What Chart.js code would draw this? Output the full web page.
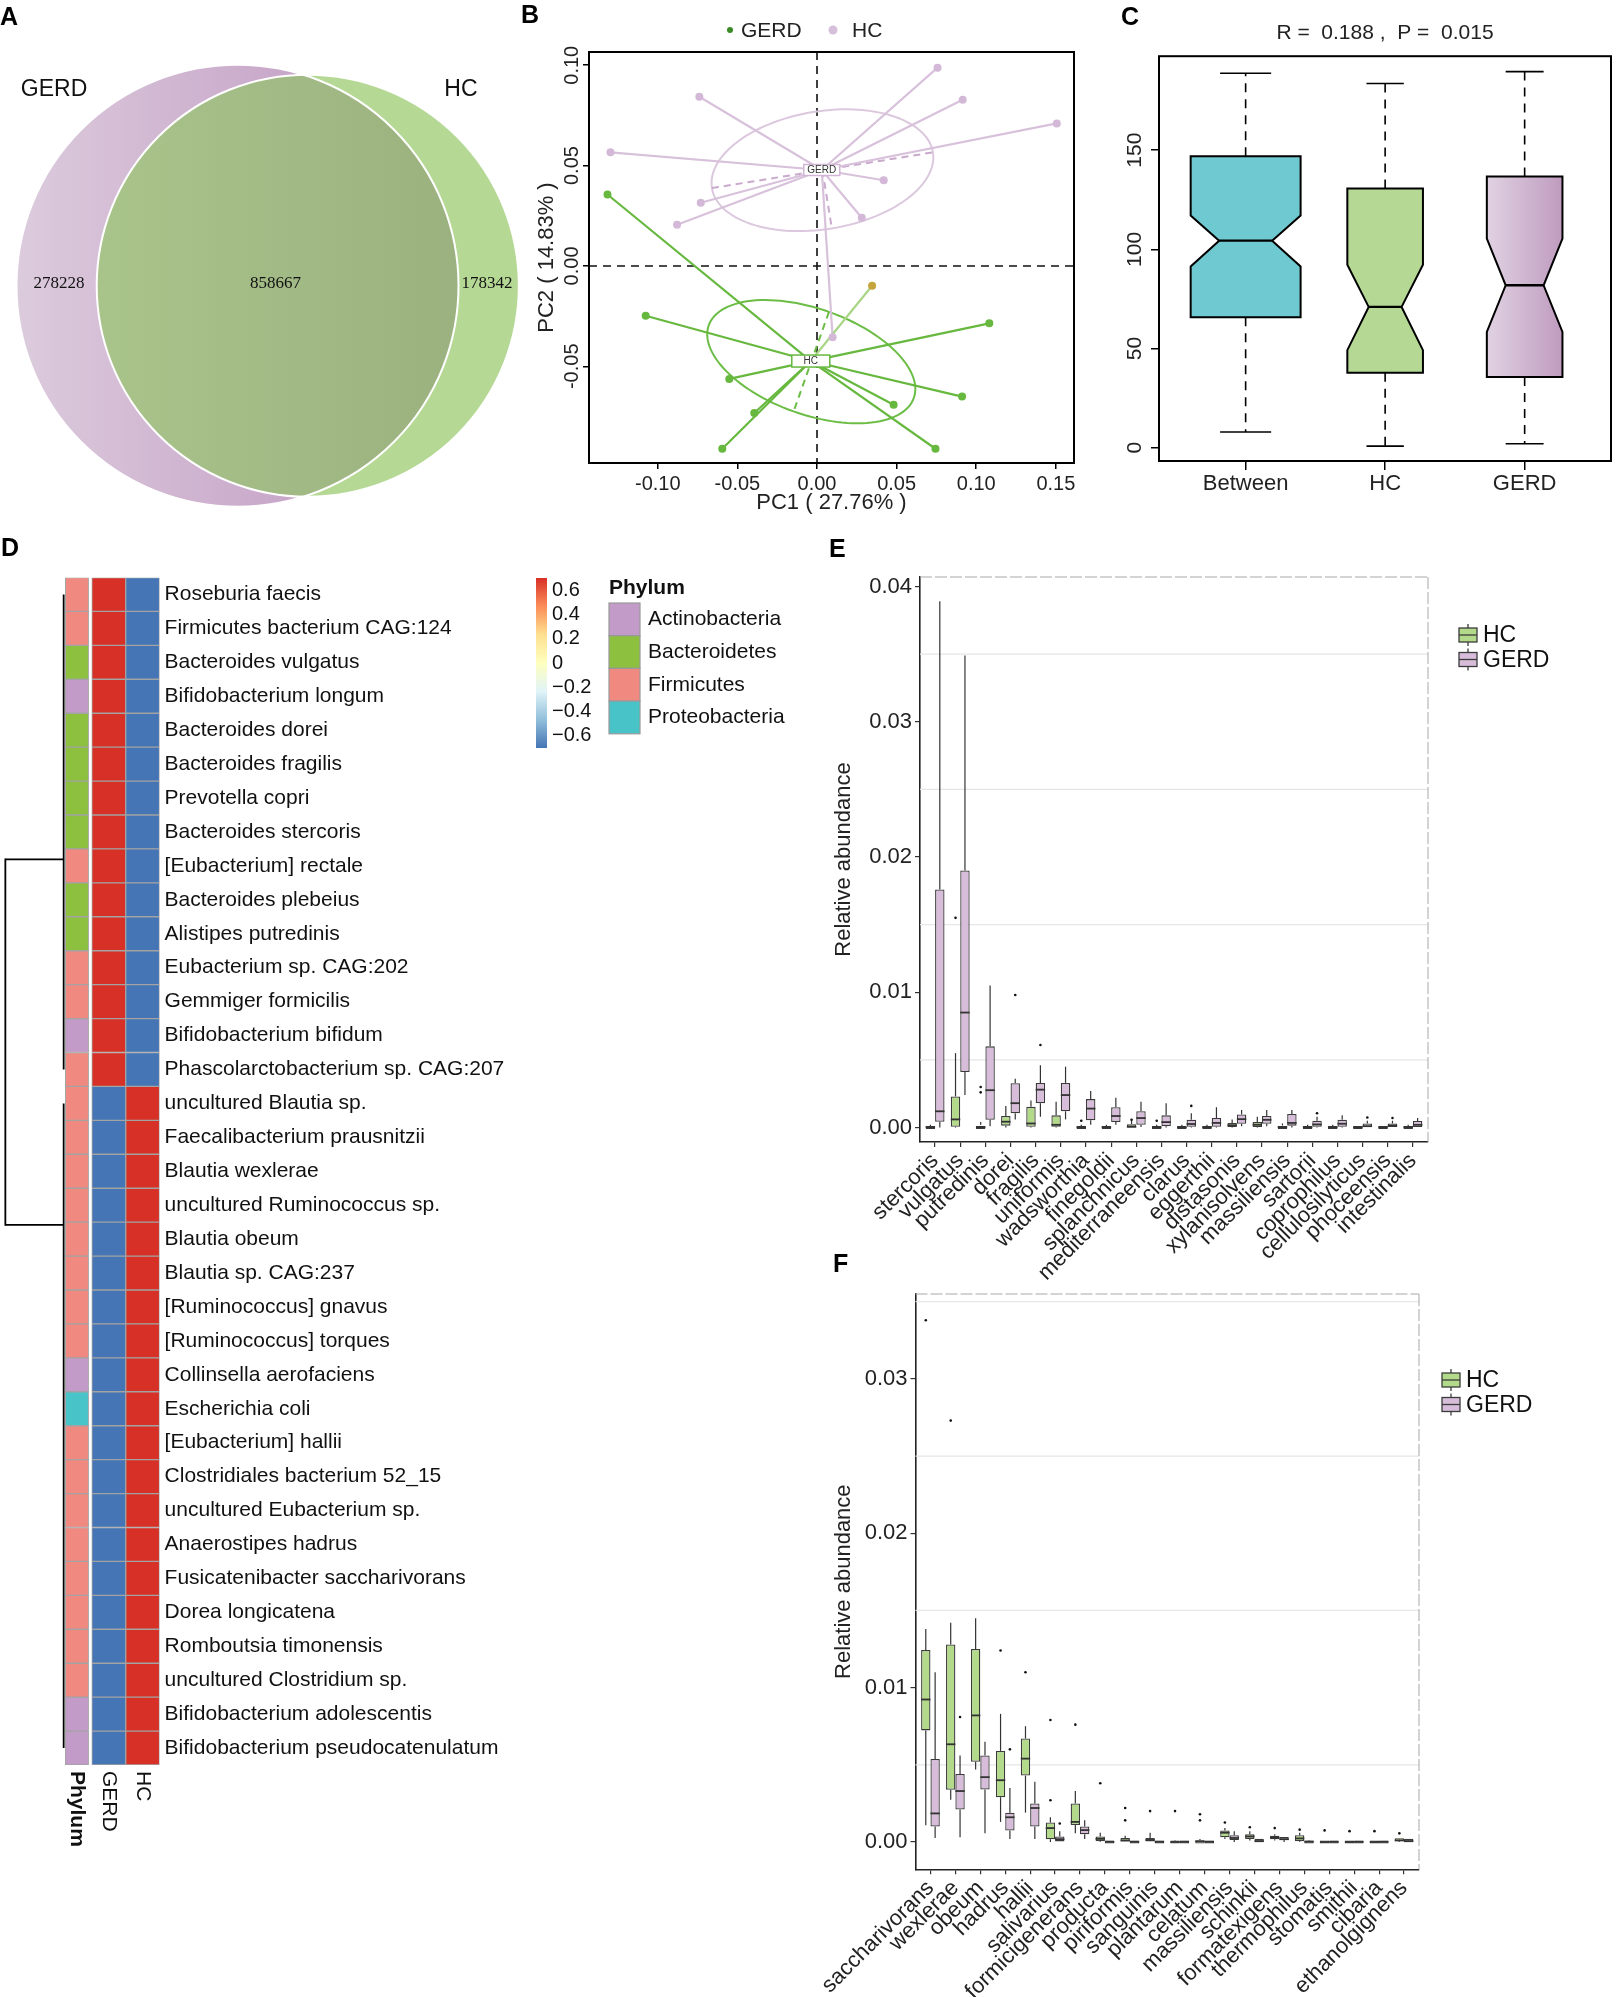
<!DOCTYPE html>
<html>
<head>
<meta charset="utf-8">
<title>GERD vs HC gut metagenome</title>
<script src="https://cdn.jsdelivr.net/npm/chart.js@4.4.0/dist/chart.umd.min.js"></script>
<style>
  html, body { margin: 0; padding: 0; background: #fff; }
  #page { position: relative; width: 1617px; height: 1997px; overflow: hidden; background: #fff; }
  #page canvas { position: absolute; }
  .tag { position: absolute; font: bold 25px 'Liberation Sans', Arial, sans-serif; line-height: 25px; color: #000; }
</style>
</head>
<body>
<div id="page">
  <canvas id="venn" width="530" height="520" style="left:0px;top:0px"></canvas>
  <canvas id="pcoa" width="600" height="520" style="left:500px;top:0px"></canvas>
  <canvas id="anosim" width="527" height="520" style="left:1090px;top:0px"></canvas>
  <canvas id="heat" width="830" height="1320" style="left:0px;top:540px"></canvas>
  <canvas id="boxE" width="817" height="720" style="left:800px;top:560px"></canvas>
  <canvas id="boxF" width="817" height="747" style="left:800px;top:1250px"></canvas>
  <div class="tag" style="left:0px;top:4px">A</div>
  <div class="tag" style="left:521px;top:2px">B</div>
  <div class="tag" style="left:1121px;top:4px">C</div>
  <div class="tag" style="left:1px;top:535px">D</div>
  <div class="tag" style="left:829px;top:536px">E</div>
  <div class="tag" style="left:833px;top:1251px">F</div>
</div>
<script>
// ---------- A: Venn ----------
var vennSets = ['GERD', 'HC'];
var vennUnique = [278228, 178342];
var vennShared = 858667;

// ---------- B: PCoA ----------
var gerdPC1 = [0.0757, 0.0915, 0.1506, -0.0739, -0.1297, -0.0730, -0.0879, 0.0419, 0.0281, 0.0098];
var gerdPC2 = [0.0988, 0.0828, 0.0710, 0.0843, 0.0566, 0.0315, 0.0205, 0.0427, 0.0240, -0.0356];
var hcPC1 = [-0.1316, -0.1076, 0.1082, 0.0911, 0.0481, 0.0744, -0.0595, -0.0394, -0.0551, 0.0346];
var hcPC2 = [0.0356, -0.0248, -0.0286, -0.0651, -0.0692, -0.0911, -0.0911, -0.0733, -0.0563, -0.0099];
var centroidGerd = [0.0030, 0.0478];
var centroidHc = [-0.0039, -0.0474];
// confidence ellipses: centre, two conjugate half axes
var ellipseGerd = [[0.0034, 0.0477], [0.0694, 0.0089], [0.0059, -0.0290]];
var ellipseHc = [[-0.0036, -0.0477], [0.0644, -0.0181], [-0.0111, -0.0248]];
var pc1Ticks = [-0.10, -0.05, 0, 0.05, 0.10, 0.15];
var pc2Ticks = [-0.05, 0, 0.05, 0.10];

// ---------- C: ANOSIM ----------
var anosimGroups = ['Between', 'HC', 'GERD'];
var anosimMin = [7.9, 0.8, 2.0];
var anosimQ1 = [65.8, 37.8, 35.7];
var anosimMed = [104.4, 71.0, 81.9];
var anosimQ3 = [147.0, 130.7, 136.7];
var anosimMax = [188.8, 183.6, 189.6];
var anosimNotchLo = [91.4, 49.2, 58.4];
var anosimNotchHi = [117.1, 92.3, 105.4];
var anosimTicks = [0, 50, 100, 150];

// ---------- D: heatmap ----------
var species = ['Roseburia faecis', 'Firmicutes bacterium CAG:124', 'Bacteroides vulgatus', 'Bifidobacterium longum',
  'Bacteroides dorei', 'Bacteroides fragilis', 'Prevotella copri', 'Bacteroides stercoris', '[Eubacterium] rectale',
  'Bacteroides plebeius', 'Alistipes putredinis', 'Eubacterium sp. CAG:202', 'Gemmiger formicilis',
  'Bifidobacterium bifidum', 'Phascolarctobacterium sp. CAG:207', 'uncultured Blautia sp.',
  'Faecalibacterium prausnitzii', 'Blautia wexlerae', 'uncultured Ruminococcus sp.', 'Blautia obeum',
  'Blautia sp. CAG:237', '[Ruminococcus] gnavus', '[Ruminococcus] torques', 'Collinsella aerofaciens',
  'Escherichia coli', '[Eubacterium] hallii', 'Clostridiales bacterium 52_15', 'uncultured Eubacterium sp.',
  'Anaerostipes hadrus', 'Fusicatenibacter saccharivorans', 'Dorea longicatena', 'Romboutsia timonensis',
  'uncultured Clostridium sp.', 'Bifidobacterium adolescentis', 'Bifidobacterium pseudocatenulatum'];
var phylum = ['Firmicutes', 'Firmicutes', 'Bacteroidetes', 'Actinobacteria', 'Bacteroidetes', 'Bacteroidetes',
  'Bacteroidetes', 'Bacteroidetes', 'Firmicutes', 'Bacteroidetes', 'Bacteroidetes', 'Firmicutes', 'Firmicutes',
  'Actinobacteria', 'Firmicutes', 'Firmicutes', 'Firmicutes', 'Firmicutes', 'Firmicutes', 'Firmicutes',
  'Firmicutes', 'Firmicutes', 'Firmicutes', 'Actinobacteria', 'Proteobacteria', 'Firmicutes', 'Firmicutes',
  'Firmicutes', 'Firmicutes', 'Firmicutes', 'Firmicutes', 'Firmicutes', 'Firmicutes', 'Actinobacteria',
  'Actinobacteria'];
var zGerd = [0.71, 0.71, 0.71, 0.71, 0.71, 0.71, 0.71, 0.71, 0.71, 0.71, 0.71, 0.71, 0.71, 0.71, 0.71,
  -0.71, -0.71, -0.71, -0.71, -0.71, -0.71, -0.71, -0.71, -0.71, -0.71, -0.71, -0.71, -0.71, -0.71, -0.71,
  -0.71, -0.71, -0.71, -0.71, -0.71];
var zHc = [-0.71, -0.71, -0.71, -0.71, -0.71, -0.71, -0.71, -0.71, -0.71, -0.71, -0.71, -0.71, -0.71, -0.71, -0.71,
  0.71, 0.71, 0.71, 0.71, 0.71, 0.71, 0.71, 0.71, 0.71, 0.71, 0.71, 0.71, 0.71, 0.71, 0.71,
  0.71, 0.71, 0.71, 0.71, 0.71];
var dendroClusters = [[0, 14], [15, 34]];
var dendroJoinRow = [7.81, 18.58];
var scaleTicks = [0.6, 0.4, 0.2, 0, -0.2, -0.4, -0.6];

// ---------- E: species higher in GERD ----------
var eCats = ['stercoris', 'vulgatus', 'putredinis', 'dorei', 'fragilis', 'uniformis', 'wadsworthia', 'finegoldii',
  'splanchnicus', 'mediterraneensis', 'clarus', 'eggerthii', 'distasonis', 'xylanisolvens', 'massiliensis',
  'sartorii', 'coprophilus', 'cellulosilyticus', 'phoceensis', 'intestinalis'];
var eHcMin = [0, 0, 0, 0, 0, 0, 0, 0, 0, 0, 0, 0, 0, 0, 0, 0, 0, 0, 0, 0];
var eHcQ1 = [0, 0.00006, 0, 0.00014, 0.00006, 0.00006, 0, 0, 0, 0, 0, 0, 0.00003, 0.00003, 0, 0, 0, 0, 0, 0];
var eHcMed = [0.00003, 0.0006, 0.00003, 0.00043, 0.0003, 0.0002, 0.00002, 0.00002, 0.00005, 0.00002,
  0.00002, 0.00002, 0.00017, 0.0002, 0.00003, 0.00002, 0.00002, 0.00001, 0.00001, 0.00002];
var eHcQ3 = [0.0001, 0.0023, 0.0002, 0.00085, 0.00153, 0.0009, 0.0001, 0.0001, 0.00025, 0.0001,
  0.0001, 0.0001, 0.00034, 0.0004, 0.00015, 0.0001, 0.0001, 0.00005, 0.00005, 0.0001];
var eHcMax = [0.0002, 0.0055, 0.0004, 0.0016, 0.002, 0.0019, 0.0002, 0.0002, 0.0005, 0.0002,
  0.0002, 0.0002, 0.0006, 0.0008, 0.0003, 0.0002, 0.0002, 0.0001, 0.0001, 0.0002];
var eHcOut = [[], [0.0155], [0.003, 0.0026], [], [], [], [0.0005], [], [0.00057], [0.0005],
  [], [], [], [], [], [], [], [], [], []];
var eGerdMin = [0, 0.0024, 0.0001, 0.0006, 0.0008, 0.0006, 0.0002, 0.0002, 0.00003, 0,
  0, 0, 0.0001, 0.0001, 0, 0, 0, 0, 0, 0];
var eGerdQ1 = [0.00043, 0.0041, 0.00057, 0.00105, 0.0018, 0.0012, 0.00054, 0.0004, 0.0002, 0.0001,
  0.00006, 0.00006, 0.00028, 0.00028, 0.00014, 0.00006, 0.00006, 0, 0, 0];
var eGerdMed = [0.0012, 0.0085, 0.00276, 0.0018, 0.0028, 0.0024, 0.0014, 0.00085, 0.0007, 0.0004,
  0.00026, 0.00034, 0.00062, 0.00057, 0.00034, 0.00023, 0.00028, 0.0001, 0.00014, 0.0002];
var eGerdQ3 = [0.0176, 0.0190, 0.0060, 0.00327, 0.0033, 0.0033, 0.0021, 0.0015, 0.0012, 0.0009,
  0.00057, 0.0007, 0.00097, 0.00085, 0.001, 0.0005, 0.00057, 0.0003, 0.0003, 0.00048];
var eGerdMax = [0.0389, 0.0349, 0.0105, 0.0036, 0.0046, 0.0045, 0.0027, 0.0022, 0.0019, 0.0018,
  0.00105, 0.0015, 0.0013, 0.0013, 0.0013, 0.0008, 0.0009, 0.0005, 0.0005, 0.0007];
var eGerdOut = [[], [], [], [0.0098], [0.0061], [], [], [], [], [],
  [0.0016], [], [], [], [], [0.00106], [], [0.00074], [0.0007], []];
var eTicks = [0, 0.01, 0.02, 0.03, 0.04];

// ---------- F: species higher in HC ----------
var fCats = ['saccharivorans', 'wexlerae', 'obeum', 'hadrus', 'hallii', 'salivarius', 'formicigenerans', 'producta',
  'piriformis', 'sanguinis', 'plantarum', 'celatum', 'massiliensis', 'schinkii', 'formatexigens', 'thermophilus',
  'stomatis', 'smithii', 'cibaria', 'ethanolgignens'];
var fHcMin = [0.00108, 0.00274, 0.0047, 0.0013, 0.0019, 0, 0.00056, 0, 0, 0, 0, 0, 0.0002, 0.0001, 0.0001, 0, 0, 0, 0, 0];
var fHcQ1 = [0.00723, 0.00338, 0.0052, 0.0029, 0.0043, 0.00018, 0.0011, 0.00005, 0, 0,
  0, 0, 0.0003, 0.0002, 0.00018, 0.00005, 0, 0, 0, 0.00005];
var fHcMed = [0.00923, 0.00633, 0.0082, 0.004, 0.0054, 0.0009, 0.0013, 0.0002, 0.0001, 0.00013,
  0, 0.00005, 0.0006, 0.00036, 0.00028, 0.00023, 0, 0, 0, 0.0001];
var fHcQ3 = [0.01244, 0.0128, 0.0125, 0.0059, 0.0067, 0.00126, 0.0025, 0.00036, 0.00026, 0.00026,
  0.00005, 0.00013, 0.00074, 0.0005, 0.0004, 0.00044, 0.00003, 0.00003, 0.00003, 0.00015];
var fHcMax = [0.0138, 0.0142, 0.0145, 0.0083, 0.0075, 0.0016, 0.0033, 0.0006, 0.0004, 0.0006,
  0.0001, 0.0002, 0.0009, 0.0007, 0.0005, 0.0006, 0.00005, 0.00005, 0.00005, 0.0002];
var fHcOut = [[0.0338], [0.0273], [], [0.0124], [0.011], [0.0079, 0.0027], [0.0076], [0.0038], [0.0022, 0.0014], [0.002],
  [0.002], [0.0018, 0.0014], [0.00126], [0.00095], [0.0009], [0.0008], [0.00075], [0.0007], [0.0007], [0.00056]];
var fGerdMin = [0.00026, 0.0003, 0.00056, 0.0002, 0.0002, 0, 0.0002, 0, 0, 0, 0, 0, 0, 0, 0, 0, 0, 0, 0, 0];
var fGerdQ1 = [0.001, 0.0021, 0.0034, 0.00074, 0.001, 0, 0.0005, 0, 0, 0,
  0, 0, 0.00013, 0.00002, 0.00013, 0, 0, 0, 0, 0.00002];
var fGerdMed = [0.00185, 0.0033, 0.0042, 0.0016, 0.0022, 0.00018, 0.00077, 0.00001, 0.00001, 0.00001,
  0.00001, 0.00001, 0.00026, 0.00005, 0.00018, 0.00002, 0.00001, 0.00001, 0.00001, 0.00005];
var fGerdQ3 = [0.00538, 0.0044, 0.0056, 0.0019, 0.0025, 0.00036, 0.001, 0.00003, 0.00003, 0.00002,
  0.00002, 0.00002, 0.00044, 0.0001, 0.00026, 0.00005, 0.00002, 0.00002, 0.00002, 0.0001];
var fGerdMax = [0.011, 0.0056, 0.0065, 0.0035, 0.0039, 0.0007, 0.0014, 0.00005, 0.00005, 0.00003,
  0.00003, 0.00003, 0.0007, 0.0002, 0.0003, 0.0001, 0.00003, 0.00003, 0.00003, 0.00015];
var fGerdOut = [[], [0.0081], [], [0.006], [], [0.0012], [], [], [], [],
  [], [], [], [], [], [], [], [], [], []];
var fTicks = [0, 0.01, 0.02, 0.03];

// ---------- common ----------
var sans = "'Liberation Sans', Arial, sans-serif";
var serif = "'Liberation Serif', 'Times New Roman', serif";
Chart.defaults.font.family = sans;
Chart.defaults.color = '#000';
Chart.defaults.animation = false;
Chart.defaults.responsive = false;
Chart.defaults.maintainAspectRatio = false;
Chart.defaults.plugins.legend.display = false;
Chart.defaults.plugins.tooltip.enabled = false;

function fixedTicks(values) {
  return function (scale) { scale.ticks = values.map(function (v) { return { value: v }; }); };
}
function seg(ctx, x1, y1, x2, y2) {
  ctx.beginPath(); ctx.moveTo(x1, y1); ctx.lineTo(x2, y2); ctx.stroke();
}
function rotatedYLabels(chart, values, fmt, gap, size) {
  var ctx = chart.ctx, ys = chart.scales.y;
  ctx.save();
  ctx.fillStyle = '#222';
  ctx.font = size + 'px ' + sans;
  ctx.textAlign = 'center';
  ctx.textBaseline = 'middle';
  values.forEach(function (v) {
    ctx.save();
    ctx.translate(chart.chartArea.left - gap, ys.getPixelForValue(v));
    ctx.rotate(-Math.PI / 2);
    ctx.fillText(fmt(v), 0, 0);
    ctx.restore();
  });
  ctx.restore();
}

// ---------- A ----------
var vennTotals = [vennUnique[0] + vennShared, vennUnique[1] + vennShared];
var vennRadius = [1, Math.sqrt(vennTotals[1] / vennTotals[0])];
var vennCentre = [0, 0.318];

var vennPlugin = {
  id: 'venn',
  afterDatasetsDraw: function (chart) {
    var ctx = chart.ctx, xs = chart.scales.x, ys = chart.scales.y;
    var unit = xs.getPixelForValue(1) - xs.getPixelForValue(0);
    var cy = ys.getPixelForValue(0);
    function circle(i) {
      ctx.beginPath();
      ctx.arc(xs.getPixelForValue(vennCentre[i]), cy, vennRadius[i] * unit, 0, Math.PI * 2);
    }
    var gx0 = xs.getPixelForValue(vennCentre[0] - vennRadius[0]);
    var gx1 = xs.getPixelForValue(vennCentre[0] + vennRadius[0] * 0.3);
    var g = ctx.createLinearGradient(gx0, 0, gx1, 0);
    g.addColorStop(0, '#dccbdd'); g.addColorStop(1, '#c7a5c8');
    ctx.fillStyle = g; circle(0); ctx.fill();
    ctx.fillStyle = '#b5d995'; circle(1); ctx.fill();
    var ix0 = xs.getPixelForValue(vennCentre[1] - vennRadius[1]);
    var ix1 = xs.getPixelForValue(vennCentre[0] + vennRadius[0]);
    var gi = ctx.createLinearGradient(ix0, 0, ix1, 0);
    gi.addColorStop(0, '#a9c48b'); gi.addColorStop(1, '#9bb17f');
    ctx.save(); circle(0); ctx.clip(); ctx.fillStyle = gi; circle(1); ctx.fill(); ctx.restore();
    ctx.strokeStyle = '#ffffff'; ctx.lineWidth = 2;
    circle(0); ctx.stroke(); circle(1); ctx.stroke();

    ctx.fillStyle = '#111';
    ctx.textAlign = 'center'; ctx.textBaseline = 'middle';
    ctx.font = '23px ' + sans;
    ctx.fillText(vennSets[0], xs.getPixelForValue(-0.83), ys.getPixelForValue(0.886));
    ctx.fillText(vennSets[1], xs.getPixelForValue(1.011), ys.getPixelForValue(0.886));
    ctx.font = '17px ' + serif;
    ctx.fillText(String(vennUnique[0]), xs.getPixelForValue(-0.808), ys.getPixelForValue(0.012));
    ctx.fillText(String(vennShared), xs.getPixelForValue(0.172), ys.getPixelForValue(0.012));
    ctx.fillText(String(vennUnique[1]), xs.getPixelForValue(1.129), ys.getPixelForValue(0.012));
  }
};
new Chart(document.getElementById('venn'), {
  type: 'scatter',
  data: { datasets: [{ data: [], pointRadius: 0 }] },
  options: {
    scales: {
      x: { display: false, min: -1.0747, max: 1.3235 },
      y: { display: false, min: -1.0597, max: 1.293 }
    }
  },
  plugins: [vennPlugin]
});

// ---------- B ----------
var hcPointColors = ['#67b83f', '#67b83f', '#67b83f', '#67b83f', '#67b83f', '#67b83f', '#67b83f', '#67b83f', '#67b83f', '#c4a53c'];
var pcoaPlugin = {
  id: 'pcoa',
  beforeDatasetsDraw: function (chart) {
    var ctx = chart.ctx, xs = chart.scales.x, ys = chart.scales.y, a = chart.chartArea;
    function P(p) { return [xs.getPixelForValue(p[0]), ys.getPixelForValue(p[1])]; }
    ctx.save();
    ctx.beginPath(); ctx.rect(a.left, a.top, a.right - a.left, a.bottom - a.top); ctx.clip();
    ctx.strokeStyle = '#111'; ctx.lineWidth = 1.6; ctx.setLineDash([8, 6]);
    seg(ctx, xs.getPixelForValue(0), a.top, xs.getPixelForValue(0), a.bottom);
    seg(ctx, a.left, ys.getPixelForValue(0), a.right, ys.getPixelForValue(0));
    ctx.setLineDash([]);

    function ellipse(e, col, dashCol, major, minorFrom) {
      ctx.strokeStyle = col; ctx.lineWidth = 2;
      ctx.beginPath();
      for (var k = 0; k <= 120; k++) {
        var t = k / 120 * Math.PI * 2;
        var p = P([e[0][0] + e[1][0] * Math.cos(t) + e[2][0] * Math.sin(t),
                   e[0][1] + e[1][1] * Math.cos(t) + e[2][1] * Math.sin(t)]);
        if (k === 0) ctx.moveTo(p[0], p[1]); else ctx.lineTo(p[0], p[1]);
      }
      ctx.stroke();
      ctx.strokeStyle = dashCol; ctx.setLineDash([7, 5]);
      if (major) {
        var m0 = P([e[0][0] - e[1][0], e[0][1] - e[1][1]]), m1 = P([e[0][0] + e[1][0], e[0][1] + e[1][1]]);
        seg(ctx, m0[0], m0[1], m1[0], m1[1]);
      }
      var n0 = P([e[0][0] - minorFrom * e[2][0], e[0][1] - minorFrom * e[2][1]]);
      var n1 = P([e[0][0] + e[2][0], e[0][1] + e[2][1]]);
      seg(ctx, n0[0], n0[1], n1[0], n1[1]);
      ctx.setLineDash([]);
    }
    ellipse(ellipseGerd, '#dcc8de', '#c9a9cc', true, 0);
    ellipse(ellipseHc, '#6cbd45', '#6cbd45', false, 1);

    var cg = P(centroidGerd), ch = P(centroidHc);
    ctx.lineWidth = 2.2;
    gerdPC1.forEach(function (x, i) {
      var p = P([x, gerdPC2[i]]);
      ctx.strokeStyle = '#d8c1db';
      seg(ctx, cg[0], cg[1], p[0], p[1]);
    });
    hcPC1.forEach(function (x, i) {
      var p = P([x, hcPC2[i]]);
      ctx.strokeStyle = i === hcPC1.length - 1 ? '#a9d586' : '#66b83e';
      seg(ctx, ch[0], ch[1], p[0], p[1]);
    });
    ctx.restore();
  },
  afterDatasetsDraw: function (chart) {
    var ctx = chart.ctx, xs = chart.scales.x, ys = chart.scales.y, a = chart.chartArea;
    function tagBox(c, text, col, w, h) {
      var x = xs.getPixelForValue(c[0]), y = ys.getPixelForValue(c[1]);
      ctx.fillStyle = '#fff'; ctx.fillRect(x - w / 2, y - h / 2, w, h);
      ctx.strokeStyle = col; ctx.lineWidth = 1.5; ctx.strokeRect(x - w / 2, y - h / 2, w, h);
      ctx.fillStyle = '#333'; ctx.font = '10px ' + sans; ctx.textAlign = 'center'; ctx.textBaseline = 'middle';
      ctx.fillText(text, x, y + 0.5);
    }
    tagBox(centroidGerd, 'GERD', '#d2b6d5', 36, 11);
    tagBox(centroidHc, 'HC', '#66b83e', 38, 12);

    ctx.strokeStyle = '#000'; ctx.lineWidth = 2;
    ctx.strokeRect(a.left, a.top, a.right - a.left, a.bottom - a.top);

    // legend
    ctx.font = '21px ' + sans; ctx.textAlign = 'left'; ctx.textBaseline = 'middle';
    ctx.fillStyle = '#3a8a25'; ctx.beginPath(); ctx.arc(230, 30, 3, 0, Math.PI * 2); ctx.fill();
    ctx.fillStyle = '#222'; ctx.fillText('GERD', 241, 31);
    ctx.fillStyle = '#d6bfda'; ctx.beginPath(); ctx.arc(333, 30, 4.5, 0, Math.PI * 2); ctx.fill();
    ctx.fillStyle = '#222'; ctx.fillText('HC', 352, 31);

    rotatedYLabels(chart, pc2Ticks, function (v) { return v.toFixed(2); }, 17, 20);
  }
};
new Chart(document.getElementById('pcoa'), {
  type: 'scatter',
  data: {
    datasets: [
      { label: 'GERD', data: gerdPC1.map(function (x, i) { return { x: x, y: gerdPC2[i] }; }),
        pointRadius: 4, pointBorderWidth: 0, pointBackgroundColor: '#d3b9d7' },
      { label: 'HC', data: hcPC1.map(function (x, i) { return { x: x, y: hcPC2[i] }; }),
        pointRadius: 4, pointBorderWidth: 0, pointBackgroundColor: hcPointColors }
    ]
  },
  options: {
    layout: { padding: { top: 52, right: 26 } },
    scales: {
      x: {
        min: -0.1432, max: 0.1614,
        afterBuildTicks: fixedTicks(pc1Ticks),
        ticks: { callback: function (v) { return v.toFixed(2); }, font: { size: 20 }, color: '#222', padding: 3, maxRotation: 0 },
        grid: { drawOnChartArea: false, tickLength: 6, color: '#000', lineWidth: 1.5 },
        border: { display: false },
        title: { display: true, text: 'PC1 ( 27.76% )', font: { size: 22 }, color: '#222', padding: { top: 0, bottom: 4 } },
        afterFit: function (s) { s.height = 57; }
      },
      y: {
        min: -0.0982, max: 0.1066,
        afterBuildTicks: fixedTicks(pc2Ticks),
        ticks: { display: false },
        grid: { drawOnChartArea: false, tickLength: 6, color: '#000', lineWidth: 1.5 },
        border: { display: false },
        title: { display: true, text: 'PC2 ( 14.83% )', font: { size: 22 }, color: '#222', padding: { top: 34, bottom: 0 } },
        afterFit: function (s) { s.width = 89; }
      }
    }
  },
  plugins: [pcoaPlugin]
});

// ---------- C ----------
var anosimFill = ['#6fc9d0', '#b5d995', null];
var anosimBoxHalf = [0.394, 0.271, 0.271];
var anosimNotchHalf = [0.19, 0.118, 0.136];
var anosimCapHalf = [0.183, 0.134, 0.136];
var anosimPlugin = {
  id: 'anosim',
  afterDatasetsDraw: function (chart) {
    var ctx = chart.ctx, xs = chart.scales.x, ys = chart.scales.y, a = chart.chartArea;
    var unit = xs.getPixelForValue(1) - xs.getPixelForValue(0);
    anosimGroups.forEach(function (g, i) {
      var xc = xs.getPixelForValue(i + 1);
      var hw = anosimBoxHalf[i] * unit, nw = anosimNotchHalf[i] * unit, cw = anosimCapHalf[i] * unit;
      var yMin = ys.getPixelForValue(anosimMin[i]), yQ1 = ys.getPixelForValue(anosimQ1[i]);
      var yMed = ys.getPixelForValue(anosimMed[i]), yQ3 = ys.getPixelForValue(anosimQ3[i]);
      var yMax = ys.getPixelForValue(anosimMax[i]);
      var yLo = ys.getPixelForValue(anosimNotchLo[i]), yHi = ys.getPixelForValue(anosimNotchHi[i]);
      ctx.strokeStyle = '#000'; ctx.lineWidth = 1.6;
      ctx.setLineDash([9, 7]);
      seg(ctx, xc, yQ3, xc, yMax);
      seg(ctx, xc, yQ1, xc, yMin);
      ctx.setLineDash([]);
      seg(ctx, xc - cw, yMax, xc + cw, yMax);
      seg(ctx, xc - cw, yMin, xc + cw, yMin);
      ctx.beginPath();
      ctx.moveTo(xc - hw, yQ3); ctx.lineTo(xc + hw, yQ3); ctx.lineTo(xc + hw, yHi);
      ctx.lineTo(xc + nw, yMed); ctx.lineTo(xc + hw, yLo); ctx.lineTo(xc + hw, yQ1);
      ctx.lineTo(xc - hw, yQ1); ctx.lineTo(xc - hw, yLo); ctx.lineTo(xc - nw, yMed);
      ctx.lineTo(xc - hw, yHi); ctx.closePath();
      if (anosimFill[i]) {
        ctx.fillStyle = anosimFill[i];
      } else {
        var gr = ctx.createLinearGradient(xc - hw, 0, xc + hw, 0);
        gr.addColorStop(0, '#e0d2e2'); gr.addColorStop(1, '#bf9bbf');
        ctx.fillStyle = gr;
      }
      ctx.fill();
      ctx.lineWidth = 2; ctx.stroke();
      ctx.lineWidth = 2.4;
      seg(ctx, xc - nw, yMed, xc + nw, yMed);
    });
    ctx.strokeStyle = '#000'; ctx.lineWidth = 2;
    ctx.strokeRect(a.left, a.top, a.right - a.left, a.bottom - a.top);
    rotatedYLabels(chart, anosimTicks, function (v) { return String(v); }, 24, 21);
  }
};
new Chart(document.getElementById('anosim'), {
  type: 'bar',
  data: {
    datasets: [{
      data: anosimQ1.map(function (q, i) { return { x: i + 1, y: [q, anosimQ3[i]] }; }),
      backgroundColor: 'rgba(0,0,0,0)', borderWidth: 0
    }]
  },
  options: {
    layout: { padding: { right: 6 } },
    plugins: {
      title: { display: true, fullSize: false, text: 'R =  0.188 ,  P =  0.015', color: '#222',
               font: { size: 21, weight: 'normal' }, padding: { top: 21, bottom: 10 } }
    },
    scales: {
      x: {
        type: 'linear', min: 0.379, max: 3.619, offset: false,
        afterBuildTicks: fixedTicks([1, 2, 3]),
        ticks: { callback: function (v) { return anosimGroups[v - 1]; }, font: { size: 22 }, color: '#222', padding: 1, maxRotation: 0 },
        grid: { offset: false, drawOnChartArea: false, tickLength: 9, color: '#000', lineWidth: 1.5 },
        border: { display: false },
        afterFit: function (s) { s.height = 59; }
      },
      y: {
        min: -6.7, max: 197.4,
        afterBuildTicks: fixedTicks(anosimTicks),
        ticks: { display: false },
        grid: { drawOnChartArea: false, tickLength: 8, color: '#000', lineWidth: 1.5 },
        border: { display: false },
        afterFit: function (s) { s.width = 69; }
      }
    }
  },
  plugins: [anosimPlugin]
});

// ---------- D ----------
var phylumNames = ['Actinobacteria', 'Bacteroidetes', 'Firmicutes', 'Proteobacteria'];
var phylumFill = ['#c39bc9', '#8dc03f', '#f08a81', '#48c3c8'];
var rampStops = ['#4575b4', '#91bfdb', '#e0f3f8', '#ffffbf', '#fee090', '#fc8d59', '#d73027'];
var zLimit = 0.7071;
function hexRgb(h) { return [parseInt(h.substr(1, 2), 16), parseInt(h.substr(3, 2), 16), parseInt(h.substr(5, 2), 16)]; }
function rampColor(v) {
  var t = Math.max(0, Math.min(1, (v + zLimit) / (2 * zLimit)));
  var pos = t * (rampStops.length - 1);
  var i = Math.min(Math.floor(pos), rampStops.length - 2), f = pos - i;
  var a = hexRgb(rampStops[i]), b = hexRgb(rampStops[i + 1]);
  return 'rgb(' + [0, 1, 2].map(function (k) { return Math.round(a[k] + (b[k] - a[k]) * f); }).join(',') + ')';
}
var heatPlugin = {
  id: 'heat',
  afterDraw: function (chart) {
    var ctx = chart.ctx, xs = chart.scales.x, ys = chart.scales.y, a = chart.chartArea;
    // row dendrogram
    var leafX = xs.getPixelForValue(-0.83), rootX = xs.getPixelForValue(-2.55);
    ctx.strokeStyle = '#000'; ctx.lineWidth = 1.8;
    dendroClusters.forEach(function (c, k) {
      seg(ctx, leafX, ys.getPixelForValue(c[0]), leafX, ys.getPixelForValue(c[1]));
      seg(ctx, leafX, ys.getPixelForValue(dendroJoinRow[k]), rootX, ys.getPixelForValue(dendroJoinRow[k]));
    });
    seg(ctx, rootX, ys.getPixelForValue(dendroJoinRow[0]) - 0.9, rootX, ys.getPixelForValue(dendroJoinRow[1]) + 0.9);

    // column labels
    var cols = [[-0.437, 'Phylum', 'bold '], [0.5, 'GERD', ''], [1.5, 'HC', '']];
    ctx.fillStyle = '#111'; ctx.textAlign = 'left'; ctx.textBaseline = 'middle';
    cols.forEach(function (c) {
      ctx.save();
      ctx.translate(xs.getPixelForValue(c[0]), a.bottom + 6);
      ctx.rotate(Math.PI / 2);
      ctx.font = c[2] + '21px ' + sans;
      ctx.fillText(c[1], 0, 0);
      ctx.restore();
    });

    // colour key
    var barTop = 38, barBot = 208, barL = 536, barW = 11;
    var midY = (barTop + barBot) / 2;
    var g = ctx.createLinearGradient(0, barBot, 0, barTop);
    rampStops.forEach(function (s, i) { g.addColorStop(i / (rampStops.length - 1), s); });
    ctx.fillStyle = g; ctx.fillRect(barL, barTop, barW, barBot - barTop);
    ctx.fillStyle = '#111'; ctx.font = '20px ' + sans;
    scaleTicks.forEach(function (v) {
      var y = midY - v / zLimit * (barBot - barTop) / 2;
      ctx.fillText(v === 0 ? '0' : (v < 0 ? '\u2212' + Math.abs(v).toFixed(1) : v.toFixed(1)), barL + 16, y);
    });

    // phylum key
    ctx.font = 'bold 21px ' + sans;
    ctx.fillText('Phylum', 609, 48);
    ctx.font = '21px ' + sans;
    phylumNames.forEach(function (p, i) {
      var top = 63 + i * 32.7;
      ctx.fillStyle = phylumFill[i]; ctx.fillRect(609, top, 31, 32.7);
      ctx.strokeStyle = '#999'; ctx.lineWidth = 1.2; ctx.strokeRect(609, top, 31, 32.7);
      ctx.fillStyle = '#111'; ctx.fillText(p, 648, top + 16.5);
    });
  }
};
var cellStyle = { grouped: false, barPercentage: 1, categoryPercentage: 1, borderColor: '#a3a3a3', borderWidth: 1, borderSkipped: false };
new Chart(document.getElementById('heat'), {
  type: 'bar',
  data: {
    labels: species,
    datasets: [
      Object.assign({ data: species.map(function () { return [-0.78, -0.094]; }),
        backgroundColor: phylum.map(function (p) { return phylumFill[phylumNames.indexOf(p)]; }) }, cellStyle),
      Object.assign({ data: zGerd.map(function () { return [0, 1]; }), backgroundColor: zGerd.map(rampColor) }, cellStyle),
      Object.assign({ data: zHc.map(function () { return [1, 2]; }), backgroundColor: zHc.map(rampColor) }, cellStyle)
    ]
  },
  options: {
    indexAxis: 'y',
    layout: { padding: { top: 37.5, bottom: 95 } },
    scales: {
      x: { type: 'linear', display: false, min: -2.708, max: 2.0 },
      y: {
        position: 'right',
        grid: { display: false, drawTicks: false },
        border: { display: false },
        ticks: { autoSkip: false, font: { size: 21 }, color: '#111', padding: 5 },
        afterFit: function (s) { s.width = 670.4; }
      }
    }
  },
  plugins: [heatPlugin]
});

// ---------- E / F ----------
var boxPlugin = {
  id: 'boxWhisker',
  beforeDatasetsDraw: function (chart) {
    var ctx = chart.ctx, ys = chart.scales.y, a = chart.chartArea;
    var o = chart.options.plugins.boxWhisker;
    ctx.save();
    ctx.strokeStyle = '#e6e6e6'; ctx.lineWidth = 1.2;
    o.minor.forEach(function (v) { var y = ys.getPixelForValue(v); seg(ctx, a.left, y, a.right, y); });
    ctx.strokeStyle = '#a8a8a8'; ctx.lineWidth = 1; ctx.setLineDash([12, 3]);
    seg(ctx, a.left, a.top, a.right, a.top);
    seg(ctx, a.right, a.top, a.right, a.bottom);
    ctx.setLineDash([]);
    ctx.strokeStyle = '#333'; ctx.lineWidth = 1.2;
    chart.data.datasets.forEach(function (ds, d) {
      var st = o.stats[d];
      chart.getDatasetMeta(d).data.forEach(function (bar, i) {
        seg(ctx, bar.x, ys.getPixelForValue(st.q3[i]), bar.x, ys.getPixelForValue(st.max[i]));
        seg(ctx, bar.x, ys.getPixelForValue(st.q1[i]), bar.x, ys.getPixelForValue(st.min[i]));
      });
    });
    ctx.restore();
  },
  afterDatasetsDraw: function (chart) {
    var ctx = chart.ctx, ys = chart.scales.y;
    var o = chart.options.plugins.boxWhisker;
    ctx.save();
    chart.data.datasets.forEach(function (ds, d) {
      var st = o.stats[d];
      chart.getDatasetMeta(d).data.forEach(function (bar, i) {
        var y = ys.getPixelForValue(st.med[i]);
        ctx.strokeStyle = '#333'; ctx.lineWidth = 1.8;
        seg(ctx, bar.x - bar.width / 2, y, bar.x + bar.width / 2, y);
        ctx.fillStyle = '#111';
        st.out[i].forEach(function (v) {
          ctx.beginPath(); ctx.arc(bar.x, ys.getPixelForValue(v), 1.3, 0, Math.PI * 2); ctx.fill();
        });
      });
    });
    // legend
    ctx.font = '23px ' + sans; ctx.textAlign = 'left'; ctx.textBaseline = 'middle';
    o.legend.names.forEach(function (n, k) {
      var x = o.legend.x, y = o.legend.y + k * 24.5;
      ctx.strokeStyle = '#3b3b3b'; ctx.lineWidth = 1.3;
      seg(ctx, x + 10, y - 11, x + 10, y + 11);
      ctx.fillStyle = o.legend.fills[k]; ctx.fillRect(x + 1, y - 7, 18, 14);
      ctx.strokeRect(x + 1, y - 7, 18, 14);
      seg(ctx, x + 1, y, x + 19, y);
      ctx.fillStyle = '#111'; ctx.fillText(n, x + 25, y + 1);
    });
    ctx.restore();
  }
};

function boxChart(id, cats, hc, gerd, yMin, yMax, ticks, minor, box, legend) {
  var barStyle = { borderColor: '#3b3b3b', borderWidth: 1.3, borderSkipped: false, minBarLength: 3,
                   categoryPercentage: 0.75, barPercentage: 1 };
  return new Chart(document.getElementById(id), {
    type: 'bar',
    data: {
      datasets: [
        Object.assign({ label: 'HC', backgroundColor: '#b3d98b',
          data: hc.q1.map(function (v, i) { return { x: i + 1, y: [v, hc.q3[i]] }; }) }, barStyle),
        Object.assign({ label: 'GERD', backgroundColor: '#d7bdda',
          data: gerd.q1.map(function (v, i) { return { x: i + 1, y: [v, gerd.q3[i]] }; }) }, barStyle)
      ]
    },
    options: {
      layout: { padding: { top: box.top, right: box.right } },
      plugins: { boxWhisker: { stats: [hc, gerd], minor: minor, legend: legend } },
      scales: {
        x: {
          type: 'linear', min: 0.4, max: cats.length + 0.6, offset: false,
          afterBuildTicks: fixedTicks(cats.map(function (c, i) { return i + 1; })),
          ticks: { callback: function (v) { return cats[v - 1]; }, autoSkip: false, minRotation: 45, maxRotation: 45,
                   font: { size: 22 }, color: '#222', padding: 1 },
          grid: { offset: false, drawOnChartArea: false, tickLength: 5, color: '#333', lineWidth: 1.2 },
          border: { display: true, color: '#222', width: 1.6 },
          afterFit: function (s) { s.height = box.xh; }
        },
        y: {
          min: yMin, max: yMax,
          afterBuildTicks: fixedTicks(ticks),
          ticks: { callback: function (v) { return v.toFixed(2); }, font: { size: 22 }, color: '#222', padding: 3 },
          grid: { drawOnChartArea: false, tickLength: 5, color: '#333', lineWidth: 1.2 },
          border: { display: true, color: '#222', width: 1.6 },
          title: { display: true, text: 'Relative abundance', font: { size: 22 }, color: '#222', padding: { top: 31, bottom: 0 } },
          afterFit: function (s) { s.width = box.yw; }
        }
      }
    },
    plugins: [boxPlugin]
  });
}

boxChart('boxE', eCats,
  { min: eHcMin, q1: eHcQ1, med: eHcMed, q3: eHcQ3, max: eHcMax, out: eHcOut },
  { min: eGerdMin, q1: eGerdQ1, med: eGerdMed, q3: eGerdQ3, max: eGerdMax, out: eGerdOut },
  -0.00107, 0.0407, eTicks, [0.005, 0.015, 0.025, 0.035],
  { top: 17, right: 189, yw: 120, xh: 138 },
  { names: ['HC', 'GERD'], fills: ['#b3d98b', '#d7bdda'], x: 658, y: 75 });

boxChart('boxF', fCats,
  { min: fHcMin, q1: fHcQ1, med: fHcMed, q3: fHcQ3, max: fHcMax, out: fHcOut },
  { min: fGerdMin, q1: fGerdQ1, med: fGerdMed, q3: fGerdQ3, max: fGerdMax, out: fGerdOut },
  -0.00177, 0.0355, fTicks, [0.005, 0.015, 0.025, 0.035],
  { top: 44, right: 198, yw: 115.5, xh: 127.7 },
  { names: ['HC', 'GERD'], fills: ['#b3d98b', '#d7bdda'], x: 641, y: 130 });
</script>
</body>
</html>
